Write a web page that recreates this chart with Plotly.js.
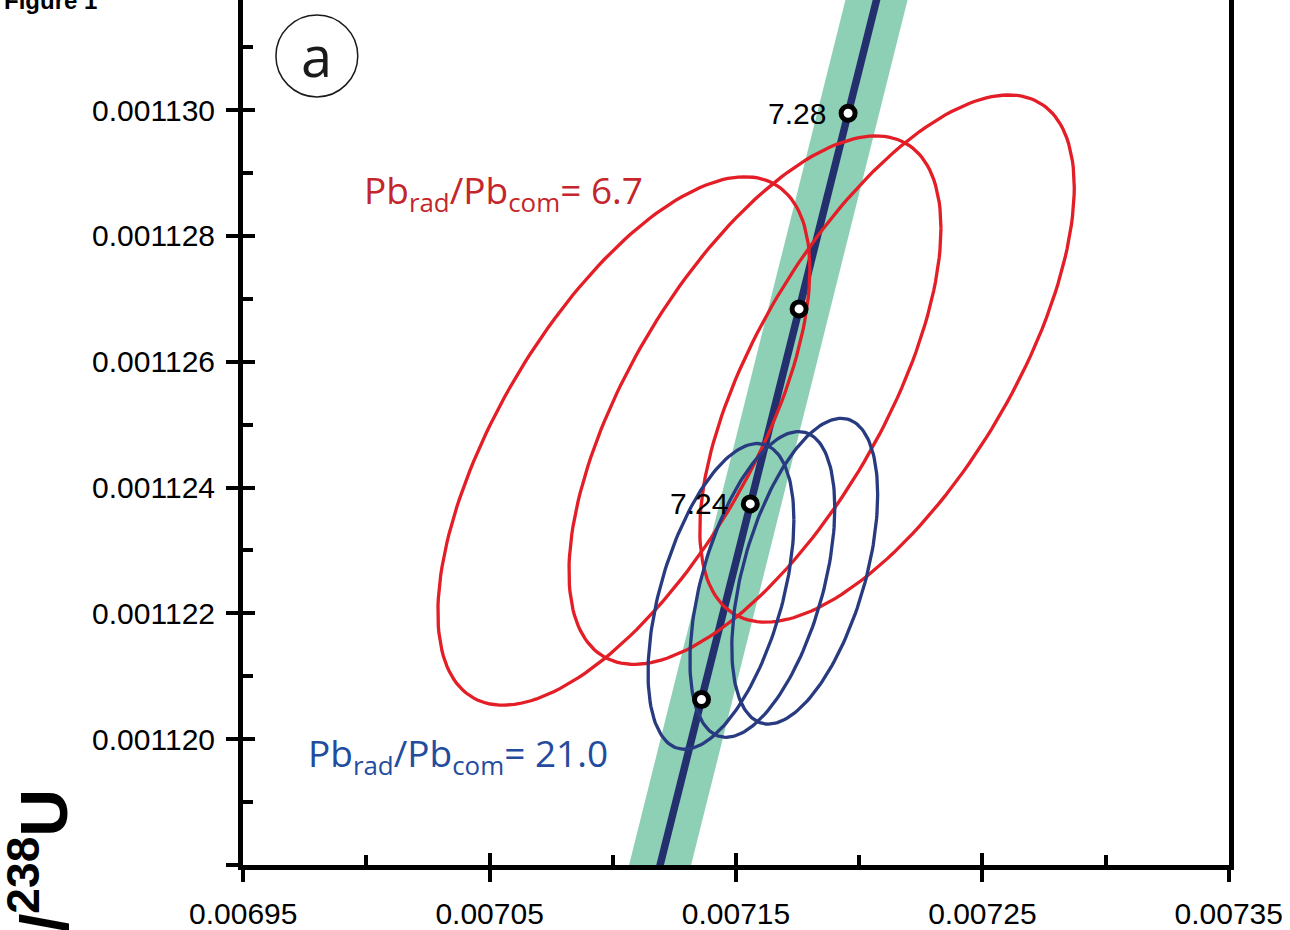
<!DOCTYPE html>
<html>
<head>
<meta charset="utf-8">
<script src="https://cdn.plot.ly/plotly-3.0.1.min.js"></script>
<style>html,body{margin:0;padding:0;background:#fff;}#chart{width:1290px;height:930px;}</style>
</head>
<body>
<div id="chart"></div>
<script>
// ---- axis ticks ----
const xTickVals = [0.00695, 0.00705, 0.00715, 0.00725, 0.00735];
const xTickText = ['0.00695', '0.00705', '0.00715', '0.00725', '0.00735'];
const xMinorVals = [0.00700, 0.00710, 0.00720, 0.00730];
const yTickVals = [0.001118, 0.001120, 0.001122, 0.001124, 0.001126, 0.001128, 0.001130];
const yTickText = ['', '0.001120', '0.001122', '0.001124', '0.001126', '0.001128', '0.001130'];
const yMinorVals = [0.001119, 0.001121, 0.001123, 0.001125, 0.001127, 0.001129, 0.001131];

// ---- concordia (207Pb/235U, 206Pb/238U) ----
const concX = [0.0071160, 0.0071360, 0.0071558, 0.0071756, 0.0071955, 0.0072099];
const concY = [0.0011175, 0.00112063, 0.00112374, 0.00112684, 0.00112995, 0.0011322];
// concordia uncertainty band (polygon corners)
const bandX = [0.0071034, 0.0071286, 0.0072225, 0.0071973];
const bandY = [0.0011175, 0.0011175, 0.0011322, 0.0011322];

// ---- age points (Ma) ----
const ageX = [0.0071360, 0.0071558, 0.0071756, 0.0071955];
const ageY = [0.00112063, 0.00112374, 0.00112684, 0.00112995];
const ageLabels = ['', '7.24', '', '7.28'];

// ---- error ellipses: Pbrad/Pbcom = 6.7 (red) ----
const redCX = [0.0071045, 0.0071577, 0.0072113];
const redCY = [0.00112474, 0.00112539, 0.00112605];
const redEX = [7.55e-5, 7.55e-5, 7.6e-5];
const redEY = [4.20e-6, 4.20e-6, 4.19e-6];
const redRho = [0.65, 0.65, 0.65];

// ---- error ellipses: Pbrad/Pbcom = 21.0 (blue) ----
const blueCX = [0.0071439, 0.0071607, 0.0071779];
const blueCY = [0.00112227, 0.00112246, 0.00112267];
const blueEX = [2.96e-5, 2.94e-5, 2.96e-5];
const blueEY = [2.43e-6, 2.43e-6, 2.43e-6];
const blueRho = [0.5, 0.5, 0.5];

const RED = '#e31e26';
const BLUE = '#283a80';
const NAVY = '#24306e';
const GREEN = '#8ed0b5';
const SANS = 'Liberation Sans, Arial, Helvetica, sans-serif';
const HUM = 'Open Sans, Noto Sans, sans-serif';

function ellipse(cx, cy, ex, ey, rho, color) {
  const xs = [], ys = [];
  const n = 180;
  const s = Math.sqrt(1 - rho * rho);
  for (let i = 0; i <= n; i++) {
    const t = 2 * Math.PI * i / n;
    xs.push(cx + ex * Math.cos(t));
    ys.push(cy + ey * (rho * Math.cos(t) + s * Math.sin(t)));
  }
  return {x: xs, y: ys, type: 'scatter', mode: 'lines',
          line: {color: color, width: 3.3}, hoverinfo: 'skip'};
}

const traces = [];
traces.push({x: bandX, y: bandY, type: 'scatter', mode: 'lines', fill: 'toself',
             fillcolor: GREEN, line: {width: 0, color: GREEN}, hoverinfo: 'skip'});
traces.push({x: concX, y: concY, type: 'scatter', mode: 'lines',
             line: {color: NAVY, width: 7.5}, hoverinfo: 'skip'});
for (let i = 0; i < redCX.length; i++) traces.push(ellipse(redCX[i], redCY[i], redEX[i], redEY[i], redRho[i], RED));
for (let i = 0; i < blueCX.length; i++) traces.push(ellipse(blueCX[i], blueCY[i], blueEX[i], blueEY[i], blueRho[i], BLUE));
traces.push({x: ageX, y: ageY, type: 'scatter', mode: 'markers',
             marker: {size: 14, color: 'white', line: {color: 'black', width: 5}}, hoverinfo: 'skip'});
traces.push({x: [], y: [], type: 'scatter', mode: 'markers', xaxis: 'x2', yaxis: 'y2', hoverinfo: 'skip'});

const xRange = [0.0069499, 0.0073501];
const yRange = [0.0011179999, 0.00113175];

const annotations = [];
for (let i = 0; i < ageLabels.length; i++) {
  if (!ageLabels[i]) continue;
  annotations.push({x: ageX[i], y: ageY[i], xref: 'x', yref: 'y', text: ageLabels[i],
    showarrow: false, xanchor: 'right', yanchor: 'middle', xshift: -20,
    font: {family: SANS, size: 30, color: 'black'}});
}
annotations.push({x: 0.0069980, y: 0.00112870, xref: 'x', yref: 'y', xanchor: 'left', yanchor: 'middle',
  showarrow: false, text: 'Pb<sub>rad</sub>/Pb<sub>com</sub>= 6.7',
  font: {family: HUM, size: 37, color: '#c4262c'}});
annotations.push({x: 0.0069755, y: 0.00111975, xref: 'x', yref: 'y', xanchor: 'left', yanchor: 'middle',
  showarrow: false, text: 'Pb<sub>rad</sub>/Pb<sub>com</sub>= 21.0',
  font: {family: HUM, size: 37, color: '#244c9e'}});
annotations.push({x: 0.0749, y: 0.9365, xref: 'paper', yref: 'paper', xanchor: 'center', yanchor: 'middle',
  showarrow: false, text: 'a', font: {family: HUM, size: 56, color: '#1a1a1a'}});
annotations.push({x: -0.2449, y: 0.9815, xref: 'paper', yref: 'paper', xanchor: 'left', yanchor: 'bottom',
  showarrow: false, text: '<b>Figure 1</b>', font: {family: SANS, size: 24, color: 'black'}});
annotations.push({x: -0.207, y: 0.0895, xref: 'paper', yref: 'paper', xanchor: 'center', yanchor: 'top',
  showarrow: false, textangle: -90, text: '<b><sup>206</sup>Pb/<sup>238</sup>U</b>',
  font: {family: 'Liberation Sans Narrow, Arial Narrow, Liberation Sans, sans-serif', size: 66, color: 'black'}});

const axisCommon = {showgrid: false, zeroline: false, fixedrange: true};

const layout = {
  width: 1290, height: 930,
  margin: {l: 243, r: 61, t: 0, b: 65, pad: 0},
  paper_bgcolor: 'white', plot_bgcolor: 'white',
  showlegend: false,
  xaxis: Object.assign({}, axisCommon, {
    range: xRange, tickmode: 'array', tickvals: xTickVals, ticktext: xTickText,
    ticks: 'outside', ticklen: 12, tickwidth: 4, tickcolor: 'black',
    showline: true, linewidth: 5, linecolor: 'black', mirror: false,
    ticklabelstandoff: 6,
    tickfont: {family: SANS, size: 30, color: 'black'},
    minor: {tickmode: 'array', tickvals: xMinorVals, ticks: 'inside', ticklen: 10, tickwidth: 4, tickcolor: 'black', showgrid: false}
  }),
  xaxis2: Object.assign({}, axisCommon, {
    overlaying: 'x', anchor: 'y', side: 'bottom', range: xRange,
    tickmode: 'array', tickvals: xTickVals, ticks: 'inside', ticklen: 12, tickwidth: 4, tickcolor: 'black',
    showticklabels: false, showline: false
  }),
  yaxis: Object.assign({}, axisCommon, {
    range: yRange, tickmode: 'array', tickvals: yTickVals, ticktext: yTickText,
    ticks: 'outside', ticklen: 12, tickwidth: 4, tickcolor: 'black',
    showline: true, linewidth: 5, linecolor: 'black', mirror: true,
    ticklabelstandoff: 5,
    tickfont: {family: SANS, size: 30, color: 'black'},
    minor: {tickmode: 'array', tickvals: yMinorVals, ticks: 'inside', ticklen: 10, tickwidth: 4, tickcolor: 'black', showgrid: false}
  }),
  yaxis2: Object.assign({}, axisCommon, {
    overlaying: 'y', anchor: 'x', side: 'left', range: yRange,
    tickmode: 'array', tickvals: yTickVals, ticks: 'inside', ticklen: 12, tickwidth: 4, tickcolor: 'black',
    showticklabels: false, showline: false
  }),
  shapes: [{type: 'circle', xref: 'paper', yref: 'paper', x0: 0.0334, x1: 0.1164, y0: 0.888, y1: 0.9827,
            line: {color: '#1a1a1a', width: 1.5}, fillcolor: 'rgba(0,0,0,0)'}],
  annotations: annotations
};

Plotly.newPlot('chart', traces, layout, {displayModeBar: false, staticPlot: true});
</script>
</body>
</html>
